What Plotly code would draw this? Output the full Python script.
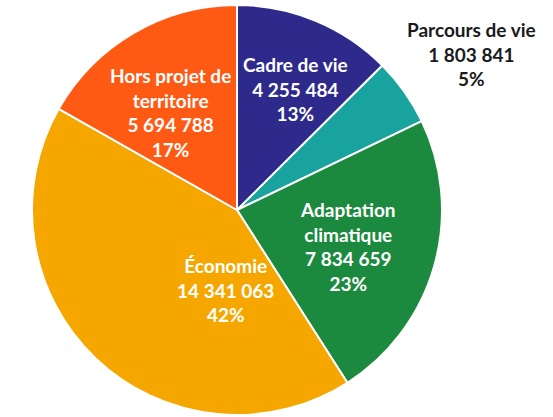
import plotly.graph_objects as go

# Budget breakdown by theme (euros)
categories = ["Cadre de vie", "Parcours de vie", "Adaptation climatique",
              "Économie", "Hors projet de territoire"]
values = [4255484, 1803841, 7834659, 14341063, 5694788]
label_lines = ["Cadre de vie", "Parcours de vie", "Adaptation<br>climatique",
               "Économie", "Hors projet de<br>territoire"]
colors = ["#2E2A8C", "#19A39E", "#1C8A3E", "#F5A700", "#FF5A14"]

W, H = 553, 417
cx, cy, r = 237, 210, 205

# label anchor points in pixels and text colours
label_px = [(295, 89), (471, 54), (348, 246), (225, 290), (170, 112)]
text_colors = ["white", "#1a1a1a", "white", "white", "white"]

total = sum(values)


def fmt(v):
    return f"{v:,}".replace(",", " ")


fig = go.Figure(go.Pie(
    labels=categories,
    values=values,
    sort=False,
    direction="clockwise",
    rotation=0,
    marker=dict(colors=colors, line=dict(color="white", width=2)),
    textinfo="none",
    hoverinfo="label+value+percent",
    domain=dict(x=[(cx - r) / W, (cx + r) / W],
                y=[1 - (cy + r) / H, 1 - (cy - r) / H]),
    showlegend=False,
))

for name, v, (px, py), tc in zip(label_lines, values, label_px, text_colors):
    pct = round(100 * v / total)
    fig.add_annotation(
        x=px / W, y=1 - py / H, xref="paper", yref="paper",
        xanchor="center", yanchor="middle",
        text=f"<b>{name}<br>{fmt(v)}<br>{pct}%</b>",
        showarrow=False, align="center",
        font=dict(family="Lato, Open Sans, sans-serif", size=19, color=tc),
    )

fig.update_layout(
    width=W, height=H,
    margin=dict(l=0, r=0, t=0, b=0),
    paper_bgcolor="white",
    plot_bgcolor="white",
)

fig.write_html("out.html")
